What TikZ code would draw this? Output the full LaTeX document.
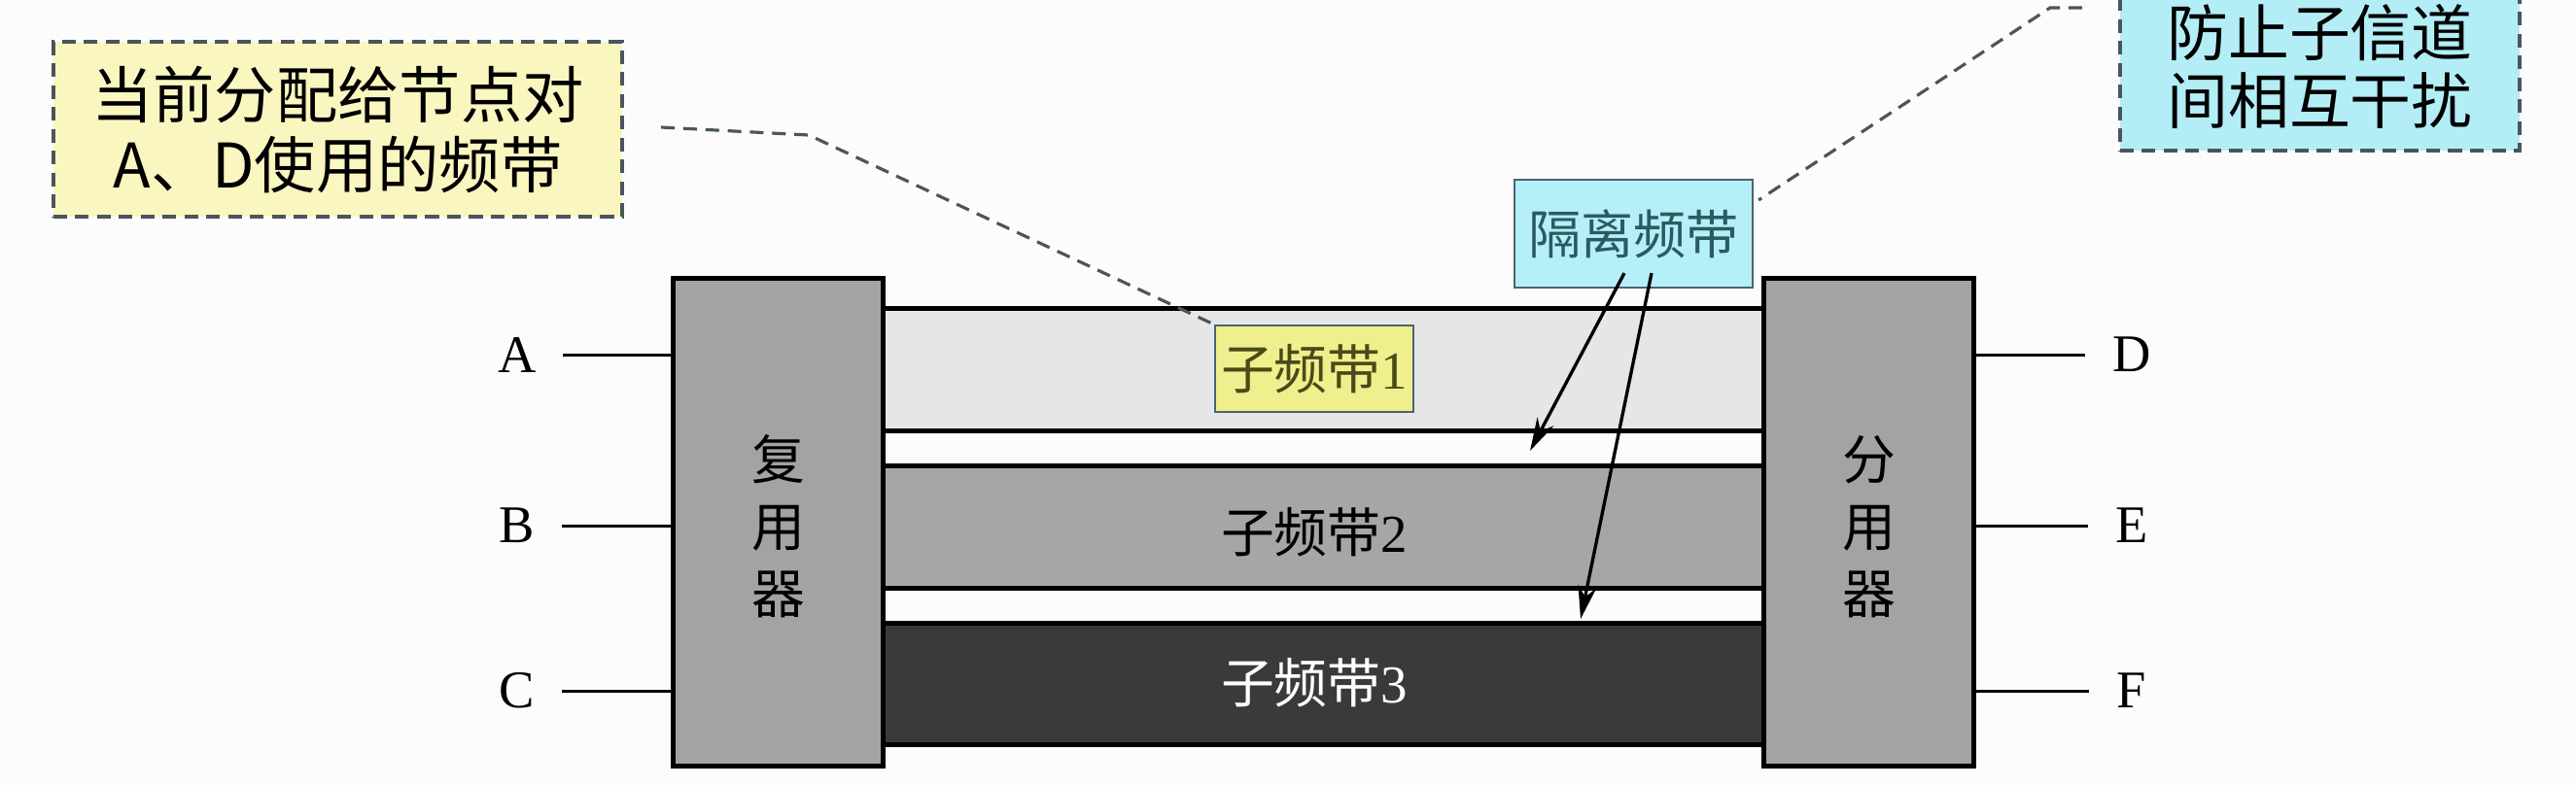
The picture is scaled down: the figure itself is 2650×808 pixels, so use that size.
\documentclass[tikz,border=0pt]{standalone}
\usepackage{fontspec}
\setmainfont{Liberation Serif}
\newfontfamily\cjk{Noto Sans CJK SC}
\usetikzlibrary{arrows.meta,calc}
\definecolor{bgcol}{HTML}{FCFCFC}
\definecolor{muxgray}{HTML}{A3A3A3}
\definecolor{bandA}{HTML}{E6E6E6}
\definecolor{bandB}{HTML}{A6A6A6}
\definecolor{bandC}{HTML}{3A3A3A}
\definecolor{noteyellow}{HTML}{FAF6BF}
\definecolor{tagyellow}{HTML}{EFEF8E}
\definecolor{tagcyan}{HTML}{B5EFF7}
\definecolor{notecyan}{HTML}{B3EEF6}
\definecolor{dashcol}{HTML}{4B555C}
\definecolor{tagborder}{HTML}{4A6472}
\definecolor{olivetext}{HTML}{4A4A18}
\definecolor{tealtext}{HTML}{2A5A62}
\newcommand\bandlabel[1]{{\cjk 子频带}#1}
\begin{document}
\begin{tikzpicture}[x=0.01cm,y=-0.01cm,
  muxbox/.style={draw=black, line width=1.4pt, fill=muxgray, minimum width=2.15cm, minimum height=5.01cm, inner sep=0pt},
  bandbox/.style={draw=none, minimum width=9.09cm, minimum height=1.24cm, inner sep=0pt},
  bandline/.style={line width=1.5pt, black},
  port/.style={line width=0.85pt, black},
  letter/.style={font=\fontsize{15.5}{18}\selectfont, inner sep=0pt},
  vtext/.style={align=center, inner sep=0pt, font=\cjk\fontsize{15.6}{19.6}\selectfont},
  bandtext/.style={inner sep=0pt, font=\fontsize{15.6}{18}\selectfont},
  tag/.style={draw=tagborder, line width=0.6pt, inner sep=0pt, font=\fontsize{15.6}{18}\selectfont},
  note/.style={draw=dashcol, line width=1.1pt, dash pattern=on 4pt off 2.4pt, align=center, inner sep=0pt},
  leader/.style={draw=dashcol, line width=0.9pt, dash pattern=on 4pt off 2.5pt},
  arr/.style={-{Stealth[length=0.34cm,width=0.19cm]}, line width=0.95pt, black}
]
\fill[bgcol] (0,0) rectangle (2650,808);
\useasboundingbox (0,0) rectangle (2650,808);

% bands
\node[bandbox, fill=bandA] (b1) at (1362.5,380.5) {};
\node[bandbox, fill=bandB] (b2) at (1362.5,542.5) {};
\node[bandbox, fill=bandC] (b3) at (1362.5,704) {};
\foreach \b in {b1,b2,b3}{
  \draw[bandline] (\b.north west) -- (\b.north east);
  \draw[bandline] (\b.south west) -- (\b.south east);
}

% multiplexer / demultiplexer
\node[muxbox] (mux) at (800.5,537.5) {};
\node[muxbox] (demux) at (1922.5,537.5) {};
\node[vtext] (muxt) at (800.5,542) {复\\用\\器};
\node[vtext] (demuxt) at (1922.5,542) {分\\用\\器};

% band labels
\node[tag, fill=tagyellow, text=olivetext, minimum width=2.04cm, minimum height=0.89cm] (sb1) at (1352,379.5) {\bandlabel{1}};
\node[bandtext] (sb2) at (1352,548) {\bandlabel{2}};
\node[bandtext, text=white] (sb3) at (1352,703) {\bandlabel{3}};

% ports
\node[letter] (A) at (532,365) {A};
\node[letter] (B) at (532,541) {B};
\node[letter] (C) at (532,711) {C};
\node[letter] (D) at (2193,365) {D};
\node[letter] (E) at (2193,541) {E};
\node[letter] (F) at (2193,711) {F};
\foreach \p in {A,B,C}{
  \draw[port] ([xshift=0.27cm]\p.east) -- (\p.east -| mux.west);
}
\foreach \p in {D,E,F}{
  \draw[port] (\p.west -| demux.east) -- ([xshift=-0.28cm]\p.west);
}

% guard band label
\node[tag, fill=tagcyan, text=tealtext, minimum width=2.45cm, minimum height=1.11cm, font=\cjk\fontsize{15.4}{18}\selectfont] (gap) at (1680.5,240.5) {隔离频带};
\coordinate (g1) at (1574,464);
\coordinate (g2) at (1626,637);
\draw[arr] ($(gap.south)+(-9.5,-16)$) -- (g1);
\draw[arr] ($(gap.south)+(18.5,-16)$) -- (g2);

% callouts
\node[note, fill=noteyellow, minimum width=5.85cm, minimum height=1.80cm, font=\cjk\fontsize{18}{20.5}\selectfont] (n1) at (347.5,133) {当前分配给节点对\\A、D使用的频带};
\coordinate (k1) at (832,139);
\draw[leader] ($(n1.east)+(38,-2)$) -- (k1) -- (sb1.north west);

\node[note, fill=notecyan, minimum width=4.11cm, minimum height=1.74cm, font=\cjk\fontsize{17.9}{19.9}\selectfont] (n2) at (2386.5,68) {防止子信道\\间相互干扰};
\coordinate (k2) at (2109,8);
\draw[leader] ($(n2.west)+(-37,-60)$) -- (k2) -- ($(gap.north east)+(5,22)$);
\end{tikzpicture}
\end{document}
